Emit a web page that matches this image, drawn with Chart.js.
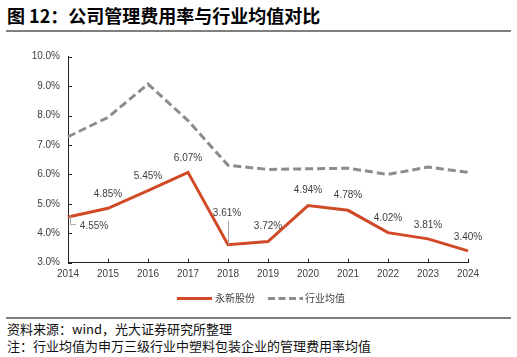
<!DOCTYPE html>
<html>
<head>
<meta charset="utf-8">
<script src="https://cdn.jsdelivr.net/npm/chart.js@4.4.1/dist/chart.umd.min.js"></script>
<style>
  html, body { margin:0; padding:0; background:#fff; width:517px; height:357px; overflow:hidden; }
  body { position:relative; font-family:"Noto Sans CJK SC", "Noto Sans", sans-serif; }
  #title { position:absolute; left:7px; top:3px; font-size:18px; font-weight:bold; color:#000; white-space:nowrap; line-height:24px; }
  .rule { position:absolute; left:6px; width:505px; height:2px; background:#7f7f7f; }
  .foot { position:absolute; left:7px; font-size:13px; color:#111; white-space:nowrap; line-height:17px; }
  #cv { position:absolute; left:0; top:40px; }
</style>
</head>
<body>
<div id="title">图 12：公司管理费用率与行业均值对比</div>
<div class="rule" style="top:30px"></div>
<canvas id="cv" width="517" height="272"></canvas>
<div class="rule" style="top:317px"></div>
<div class="foot" style="top:320px">资料来源：wind，光大证券研究所整理</div>
<div class="foot" style="top:337px">注：行业均值为申万三级行业中塑料包装企业的管理费用率均值</div>
<script>
const categories = ['2014','2015','2016','2017','2018','2019','2020','2021','2022','2023','2024'];
const companyName = '永新股份';
const industryName = '行业均值';
const companyValues = [4.55, 4.85, 5.45, 6.07, 3.61, 3.72, 4.94, 4.78, 4.02, 3.81, 3.40];
const industryValues = [7.28, 7.94, 9.07, 7.83, 6.31, 6.17, 6.19, 6.21, 6.00, 6.25, 6.07];
const yTicks = [3, 4, 5, 6, 7, 8, 9, 10];

const RED = '#D04A27';
const GRAY = '#8C8C8C';
const TXT = '#404040';
const FONT = '"Liberation Sans", Arial, sans-serif';

// label placement: [dx, dy, leader]
const labelPlace = [
  [26, 9, 'elbow'], [0, -14], [0, -14], [0, -14], [-1, -31, 'vert'], [0, -15],
  [0, -15], [0, -15], [0, -14], [0, -14], [0, -14]
];

const insideTicks = {
  id: 'insideTicks',
  afterDraw(chart) {
    const ctx = chart.ctx;
    const xs = chart.scales.x, ys = chart.scales.y;
    ctx.save();
    ctx.strokeStyle = '#222';
    ctx.lineWidth = 1;
    ctx.beginPath();
    ys.ticks.forEach((t, i) => {
      const y = Math.round(ys.getPixelForTick(i)) + 0.5;
      ctx.moveTo(xs.left, y); ctx.lineTo(xs.left + 4, y);
    });
    xs.ticks.forEach((t, i) => {
      const x = Math.round(xs.getPixelForTick(i)) + 0.5;
      ctx.moveTo(x, ys.bottom); ctx.lineTo(x, ys.bottom - 4);
    });
    ctx.stroke();
    ctx.restore();
  }
};

const dataLabels = {
  id: 'dataLabels',
  afterDatasetsDraw(chart) {
    const ctx = chart.ctx;
    const meta = chart.getDatasetMeta(0);
    ctx.save();
    ctx.font = '10px ' + FONT;
    ctx.fillStyle = TXT;
    ctx.textAlign = 'center';
    ctx.textBaseline = 'middle';
    meta.data.forEach((pt, i) => {
      const p = labelPlace[i] || [0, -14];
      const lx = pt.x + p[0], ly = pt.y + p[1];
      const txt = companyValues[i].toFixed(2) + '%';
      if (p[2]) {
        ctx.strokeStyle = '#A6A6A6';
        ctx.lineWidth = 1;
        ctx.beginPath();
        if (p[2] === 'elbow') {
          const w = ctx.measureText(txt).width;
          ctx.moveTo(pt.x + 2.5, pt.y - 2);
          ctx.lineTo(pt.x + 2.5, ly - 1.5);
          ctx.lineTo(lx - w / 2 - 4, ly - 1.5);
        } else {
          ctx.moveTo(pt.x + 0.5, ly + 7);
          ctx.lineTo(pt.x + 0.5, pt.y);
        }
        ctx.stroke();
      }
      ctx.fillText(txt, lx, ly);
    });
    ctx.restore();
  }
};

const customLegend = {
  id: 'customLegend',
  afterDraw(chart) {
    const ctx = chart.ctx;
    const y = 258.5;
    ctx.save();
    ctx.font = '10px "Noto Sans CJK SC", sans-serif';
    ctx.fillStyle = TXT;
    ctx.textBaseline = 'middle';
    ctx.textAlign = 'left';
    // company
    ctx.strokeStyle = RED; ctx.lineWidth = 3; ctx.setLineDash([]);
    ctx.beginPath(); ctx.moveTo(177, y); ctx.lineTo(212, y); ctx.stroke();
    ctx.fillText(companyName, 215, y);
    // industry
    ctx.strokeStyle = GRAY; ctx.lineWidth = 3; ctx.setLineDash([7, 3.5]);
    ctx.beginPath(); ctx.moveTo(268, y); ctx.lineTo(303, y); ctx.stroke();
    ctx.setLineDash([]);
    ctx.fillText(industryName, 305, y);
    ctx.restore();
  }
};

new Chart(document.getElementById('cv'), {
  type: 'line',
  data: {
    labels: categories,
    datasets: [
      { label: companyName, data: companyValues, borderColor: RED, backgroundColor: RED,
        borderWidth: 3, pointRadius: 0, tension: 0, fill: false },
      { label: industryName, data: industryValues, borderColor: GRAY, backgroundColor: GRAY,
        borderWidth: 3, borderDash: [8, 4], pointRadius: 0, tension: 0, fill: false }
    ]
  },
  options: {
    responsive: false,
    animation: false,
    devicePixelRatio: 1,
    layout: { padding: { left: 0, right: 49, top: 16.7, bottom: 27.3 } },
    plugins: { legend: { display: false }, tooltip: { enabled: false }, title: { display: false } },
    scales: {
      x: {
        type: 'category',
        offset: false,
        grid: { display: false, drawTicks: false },
        border: { display: true, color: '#222', width: 1 },
        ticks: { color: TXT, font: { family: FONT, size: 10 }, padding: 6, maxRotation: 0, autoSkip: false },
        afterFit(s) { s.height = 22; }
      },
      y: {
        min: 3, max: 10,
        grid: { display: false, drawTicks: false },
        border: { display: true, color: '#222', width: 1 },
        afterBuildTicks(s) { s.ticks = yTicks.map(v => ({ value: v })); },
        ticks: { color: TXT, font: { family: FONT, size: 10 }, padding: 8,
          callback: v => Number(v).toFixed(1) + '%' },
        afterFit(s) { s.width = 68; }
      }
    }
  },
  plugins: [insideTicks, dataLabels, customLegend]
});
</script>
</body>
</html>
